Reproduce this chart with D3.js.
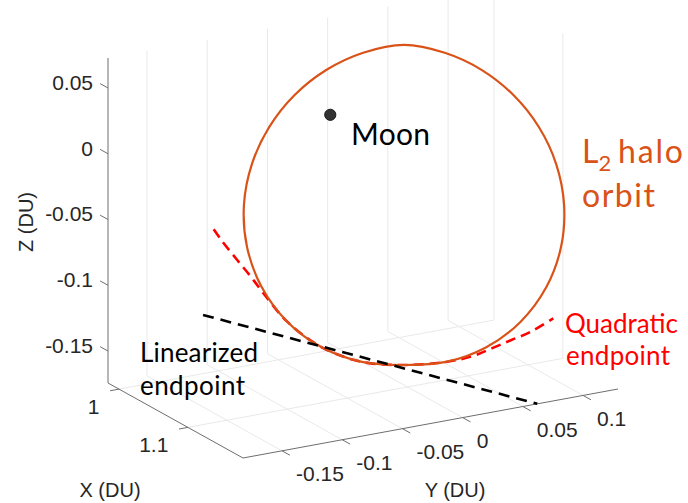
<!DOCTYPE html>
<html><head><meta charset="utf-8">
<script src="https://cdn.jsdelivr.net/npm/d3@7"></script>
<style>body{margin:0;background:#fff}</style>
</head><body><svg id="c" width="688" height="503"></svg>
<script>
// ---------- data (DU) ----------
const orbitX = [1.052,1.056,1.063,1.071,1.081,1.092,1.104,1.116,1.126,1.134,1.140,1.142,1.140,1.137,1.131,1.122,1.112,1.100,1.088,1.077,1.068,1.060,1.055,1.052];
const orbitY = [0.0245,0.0561,0.0829,0.1047,0.1199,0.1280,0.1277,0.1183,0.1004,0.0745,0.0425,0.0080,-0.0258,-0.0591,-0.0890,-0.1125,-0.1280,-0.1333,-0.1290,-0.1161,-0.0966,-0.0711,-0.0418,-0.0094];
const orbitZ = [0.0677,0.0575,0.0419,0.0214,-0.0024,-0.0287,-0.0562,-0.0832,-0.1077,-0.1273,-0.1396,-0.1444,-0.1416,-0.1345,-0.1201,-0.0993,-0.0733,-0.0454,-0.0177,0.0080,0.0302,0.0478,0.0606,0.0674];

const quadX = [1.093,1.097,1.103,1.108,1.113,1.122,1.131,1.137,1.140,1.142,1.141,1.140,1.139,1.138,1.135];
const quadY = [-0.157,-0.152,-0.143,-0.135,-0.127,-0.1125,-0.0890,-0.0591,-0.0258,0.0080,0.031,0.048,0.064,0.080,0.101];
const quadZ = [-0.030,-0.039,-0.053,-0.065,-0.078,-0.0993,-0.1201,-0.1345,-0.1416,-0.1444,-0.144,-0.141,-0.138,-0.135,-0.129];

const linX = [1.122, 1.180];
const linY = [-0.1824, 0.062];
const linZ = [-0.0824, -0.1743];

const moonPos = [0.9878, 0, 0];

const xTicks = [1, 1.1];
const xTickLabels = ["1", "1.1"];
const yTicks = [-0.15, -0.1, -0.05, 0, 0.05, 0.1];
const yTickLabels = ["-0.15", "-0.1", "-0.05", "0", "0.05", "0.1"];
const zTicks = [0.05, 0, -0.05, -0.1, -0.15];
const zTickLabels = ["0.05", "0", "-0.05", "-0.1", "-0.15"];

const xDomain = [0.984, 1.18];
const yDomain = [-0.1824, 0.129];
const zDomain = [-0.1743, 0.0728];

// ---------- projection ----------
const svg = d3.select("#c");
const O = [108, 383], UX = [135, 75], UY = [375, -69], UZ = [0, -325];
const sx = d3.scaleLinear().domain(xDomain).range([0, 1]);
const sy = d3.scaleLinear().domain(yDomain).range([0, 1]);
const sz = d3.scaleLinear().domain(zDomain).range([0, 1]);
function P(x, y, z) {
  const a = sx(x), b = sy(y), c = sz(z);
  return [O[0] + a*UX[0] + b*UY[0] + c*UZ[0], O[1] + a*UX[1] + b*UY[1] + c*UZ[1]];
}
const [x0, x1] = xDomain, [y0, y1] = yDomain, [z0, z1] = zDomain;

function seg(g, a, b, stroke, w) {
  g.append("line").attr("x1", a[0]).attr("y1", a[1]).attr("x2", b[0]).attr("y2", b[1])
    .attr("stroke", stroke).attr("stroke-width", w);
}

// ---------- grid ----------
const grid = svg.append("g");
const gc = "#e9e9e9";
yTicks.forEach(v => {
  seg(grid, P(x0, v, z0), P(x0, v, z1), gc, 1);
  seg(grid, P(x0, v, z0), P(x1, v, z0), gc, 1);
});
xTicks.forEach(v => {
  seg(grid, P(v, y1, z0), P(v, y1, z1), gc, 1);
  seg(grid, P(v, y0, z0), P(v, y1, z0), gc, 1);
});

// ---------- axes ----------
const ax = svg.append("g");
const ac = "#6e6e6e";
seg(ax, P(x0, y0, z0), P(x0, y0, z1), ac, 1);
seg(ax, P(x0, y0, z0), P(x1, y0, z0), ac, 1);
seg(ax, P(x1, y0, z0), P(x1, y1, z0), ac, 1);

const tickFont = "'Liberation Sans', Arial, Helvetica, sans-serif";
zTicks.forEach((v, i) => {
  const a = P(x0, y0, v), b = P(x0 - 0.0114, y0, v);
  seg(ax, a, b, ac, 1);
  ax.append("text").attr("x", a[0] - 15).attr("y", a[1] - 5.5).attr("dy", "0.35em")
    .attr("text-anchor", "end").attr("font-family", tickFont).attr("font-size", 21)
    .attr("fill", "#262626").text(zTickLabels[i]);
});
xTicks.forEach((v, i) => {
  const a = P(v, y0, z0), b = P(v, y0 - 0.0074, z0);
  seg(ax, a, b, ac, 1);
  ax.append("text").attr("x", a[0] - 19.5).attr("y", a[1] + 17.5).attr("dy", "0.35em")
    .attr("text-anchor", "end").attr("font-family", tickFont).attr("font-size", 21)
    .attr("fill", "#262626").text(xTickLabels[i]);
});
yTicks.forEach((v, i) => {
  const a = P(x1, v, z0), b = P(x1 + 0.0114, v, z0);
  seg(ax, a, b, ac, 1);
  ax.append("text").attr("x", a[0] + 14).attr("y", a[1] + 23).attr("dy", "0.35em")
    .attr("text-anchor", "start").attr("font-family", tickFont).attr("font-size", 21)
    .attr("fill", "#262626").text(yTickLabels[i]);
});

ax.append("text").attr("x", 110).attr("y", 497).attr("text-anchor", "middle")
  .attr("font-family", tickFont).attr("font-size", 20).attr("fill", "#262626").text("X (DU)");
ax.append("text").attr("x", 455).attr("y", 497).attr("text-anchor", "middle")
  .attr("font-family", tickFont).attr("font-size", 20).attr("fill", "#262626").text("Y (DU)");
ax.append("text").attr("transform", "translate(33,222) rotate(-90)").attr("text-anchor", "middle")
  .attr("font-family", tickFont).attr("font-size", 20).attr("fill", "#262626").text("Z (DU)");

// ---------- data marks ----------
const marks = svg.append("g");
const quadPts = quadX.map((x, i) => P(x, quadY[i], quadZ[i]));
const orbitPts = orbitX.map((x, i) => P(x, orbitY[i], orbitZ[i]));
const linPts = linX.map((x, i) => P(x, linY[i], linZ[i]));

marks.append("path").attr("d", d3.line().curve(d3.curveCatmullRom)(quadPts))
  .attr("fill", "none").attr("stroke", "#ff0000").attr("stroke-width", 2.6)
  .attr("stroke-dasharray", "10,6");
marks.append("path").attr("d", d3.line().curve(d3.curveCatmullRomClosed)(orbitPts))
  .attr("fill", "none").attr("stroke", "#d95319").attr("stroke-width", 2.2);
marks.append("path").attr("d", d3.line()(linPts))
  .attr("fill", "none").attr("stroke", "#000").attr("stroke-width", 2.6)
  .attr("stroke-dasharray", "11,7");

const mp = P(moonPos[0], moonPos[1], moonPos[2]);
marks.append("circle").attr("cx", mp[0]).attr("cy", mp[1]).attr("r", 5.6)
  .attr("fill", "#333").attr("stroke", "#1a1a1a").attr("stroke-width", 1);

// ---------- annotations ----------
const annFont = "Lato, 'Open Sans', sans-serif";
const ann = svg.append("g").attr("font-family", annFont);
ann.append("text").attr("x", 351).attr("y", 145).attr("font-size", 30).attr("fill", "#000")
  .attr("textLength", 79).text("Moon");
const l2 = ann.append("text").attr("x", 582).attr("y", 163).attr("font-size", 32).attr("fill", "#d95319");
l2.append("tspan").text("L");
l2.append("tspan").attr("font-size", 22).attr("dy", 8).text("2");
l2.append("tspan").attr("dy", -8).attr("x", 618).attr("textLength", 65).text("halo");
ann.append("text").attr("x", 582).attr("y", 207).attr("font-size", 32).attr("fill", "#d95319")
  .attr("textLength", 73).text("orbit");
ann.append("text").attr("x", 140).attr("y", 362).attr("font-size", 26).attr("fill", "#000")
  .attr("textLength", 118).text("Linearized");
ann.append("text").attr("x", 140).attr("y", 395).attr("font-size", 26).attr("fill", "#000")
  .attr("textLength", 105).text("endpoint");
ann.append("text").attr("x", 565).attr("y", 333).attr("font-size", 26).attr("fill", "#ff0000")
  .attr("textLength", 113).text("Quadratic");
ann.append("text").attr("x", 566).attr("y", 365).attr("font-size", 26).attr("fill", "#ff0000")
  .attr("textLength", 104).text("endpoint");
</script>
</body></html>
